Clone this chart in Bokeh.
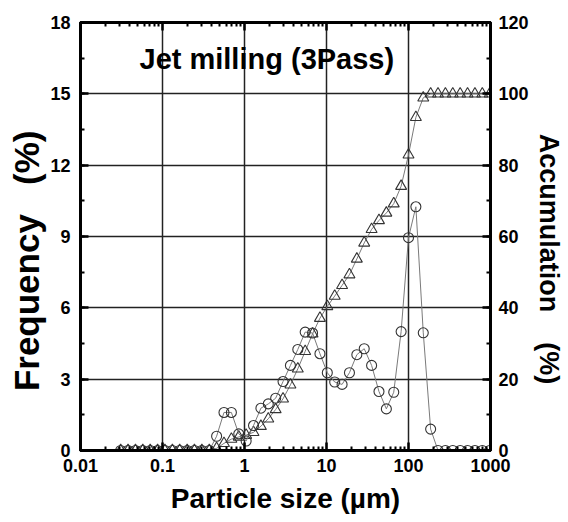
from bokeh.plotting import figure
from bokeh.models import (Range1d, LinearAxis, LogAxis, FixedTicker, SingleIntervalTicker,
                          CustomJSTickFormatter, Label, ColumnDataSource)
from bokeh.embed import file_html
from bokeh.resources import INLINE

# ---------------- data ----------------
size_um = [0.0309, 0.0380, 0.0468, 0.0575, 0.0708, 0.0871, 0.107, 0.132, 0.162, 0.200,
           0.245, 0.302, 0.372, 0.457, 0.562, 0.692, 0.851, 1.047, 1.288, 1.585,
           1.950, 2.399, 2.951, 3.631, 4.467, 5.495, 6.761, 8.318, 10.23, 12.59,
           15.49, 19.05, 23.44, 28.84, 35.48, 43.65, 53.70, 66.07, 81.28, 100.0,
           123.0, 151.4, 186.2, 229.1, 281.8, 346.7, 426.6, 524.8, 645.7, 794.3, 977.2]

frequency = [0, 0, 0, 0, 0, 0, 0, 0, 0, 0,
             0, 0, 0, 0.6, 1.6, 1.6, 0.7, 0.4, 1.05, 1.78,
             1.96, 2.2, 2.9, 3.58, 4.25, 4.98, 4.94, 4.07, 3.27, 2.88,
             2.78, 3.27, 4.03, 4.28, 3.58, 2.48, 1.75, 2.45, 5.0, 8.95,
             10.25, 4.95, 0.9, 0, 0, 0, 0, 0, 0, 0, 0]

accumulation = [0, 0, 0, 0, 0, 0, 0, 0, 0, 0,
                0, 0, 0, 0.6, 2.0, 3.2, 3.8, 4.3, 5.1, 6.8,
                8.9, 11.5, 14.5, 18.4, 22.9, 27.8, 32.7, 37.1, 40.4, 43.3,
                46.3, 49.3, 53.7, 58.2, 62.0, 64.5, 66.6, 69.2, 74.1, 82.9,
                93.4, 98.9, 100, 100, 100, 100, 100, 100, 100, 100, 100]

x_ticks = [0.01, 0.1, 1, 10, 100, 1000]
x_grid = [0.1, 1, 10, 100]
freq_grid = [3, 6, 9, 12, 15]

NB = "\u00a0"
title_text = "Jet milling (3Pass)"
x_label = "Particle size (µm)"
y_label = "Frequency" + NB * 3 + "(%)" + NB * 5
y2_label = NB * 6 + "Accumulation" + NB * 4 + "(%)"

# ---------------- layout ----------------
W, H = 566, 521
FL, FR, FT, FB = 80, 490, 22, 450          # frame edges in page pixels
FONT = "Liberation Sans"

p = figure(width=W, height=H, x_axis_type="log",
           x_range=Range1d(0.01, 1000), y_range=Range1d(0, 18),
           output_backend="svg", toolbar_location=None,
           min_border_left=FL, min_border_right=W - FR,
           min_border_top=FT, min_border_bottom=H - FB)
p.extra_y_ranges = {"acc": Range1d(0, 120)}
p.background_fill_color = "white"
p.border_fill_color = "white"
p.outline_line_color = "black"
p.outline_line_width = 3

minor_x = [m * 10.0 ** e for e in range(-2, 3) for m in range(2, 10)]


def style_axis(ax, standoff):
    ax.axis_line_color = "black"
    ax.axis_line_width = 3
    ax.major_tick_in = 8
    ax.major_tick_out = 0
    ax.minor_tick_in = 4
    ax.minor_tick_out = 0
    ax.major_tick_line_color = "black"
    ax.minor_tick_line_color = "black"
    ax.major_tick_line_width = 2.5
    ax.minor_tick_line_width = 2
    ax.major_label_text_font = FONT
    ax.major_label_text_font_style = "bold"
    ax.major_label_text_font_size = "18px"
    ax.major_label_text_color = "black"
    ax.major_label_standoff = standoff
    ax.axis_label_text_font = FONT
    ax.axis_label_text_font_style = "bold"
    ax.axis_label_text_color = "black"


xa = p.xaxis[0]
xa.ticker = FixedTicker(ticks=x_ticks, minor_ticks=minor_x)
xa.formatter = CustomJSTickFormatter(code="return parseFloat(tick.toPrecision(4)).toString();")
style_axis(xa, 8)
xa.axis_label = x_label
xa.axis_label_text_font_size = "28px"
xa.axis_label_standoff = 8

ya = p.yaxis[0]
ya.ticker = SingleIntervalTicker(interval=3, num_minor_ticks=2)
style_axis(ya, 10)
ya.axis_label = y_label
ya.axis_label_text_font_size = "35px"
ya.axis_label_standoff = 1

top = LogAxis(ticker=FixedTicker(ticks=x_ticks, minor_ticks=minor_x))
style_axis(top, 0)
top.major_label_text_font_size = "2px"
top.major_label_text_alpha = 0
p.add_layout(top, "above")

ra = LinearAxis(y_range_name="acc", ticker=SingleIntervalTicker(interval=20, num_minor_ticks=2))
style_axis(ra, 8)
ra.axis_label = y2_label
ra.axis_label_text_font_size = "27px"
ra.axis_label_standoff = 2
p.add_layout(ra, "right")

p.xgrid.ticker = FixedTicker(ticks=x_grid)
p.ygrid.ticker = FixedTicker(ticks=freq_grid)
for g in (p.xgrid[0], p.ygrid[0]):
    g.grid_line_color = "#222222"
    g.grid_line_width = 1.5
    g.minor_grid_line_color = None

# ---------------- series ----------------
src = ColumnDataSource(dict(size=size_um, freq=frequency, acc=accumulation))
p.line("size", "acc", source=src, y_range_name="acc", line_color="#7a7a7a", line_width=1)
p.scatter("size", "acc", source=src, y_range_name="acc", marker="triangle", size=11,
          fill_color=None, line_color="#333333", line_width=1.1)
p.line("size", "freq", source=src, line_color="#7a7a7a", line_width=1)
p.scatter("size", "freq", source=src, marker="circle", size=10,
          fill_color=None, line_color="#333333", line_width=1.1)

# ---------------- title inside the frame ----------------
p.add_layout(Label(x=10 ** (-2 + (139 - FL) / 82.0), y=(FB - 58) / 428.0 * 18,
                   text=title_text, text_align="left", text_baseline="middle",
                   text_font=FONT, text_font_style="bold", text_font_size="29px",
                   text_color="black"))

open("out.html", "w").write(file_html(p, INLINE))
